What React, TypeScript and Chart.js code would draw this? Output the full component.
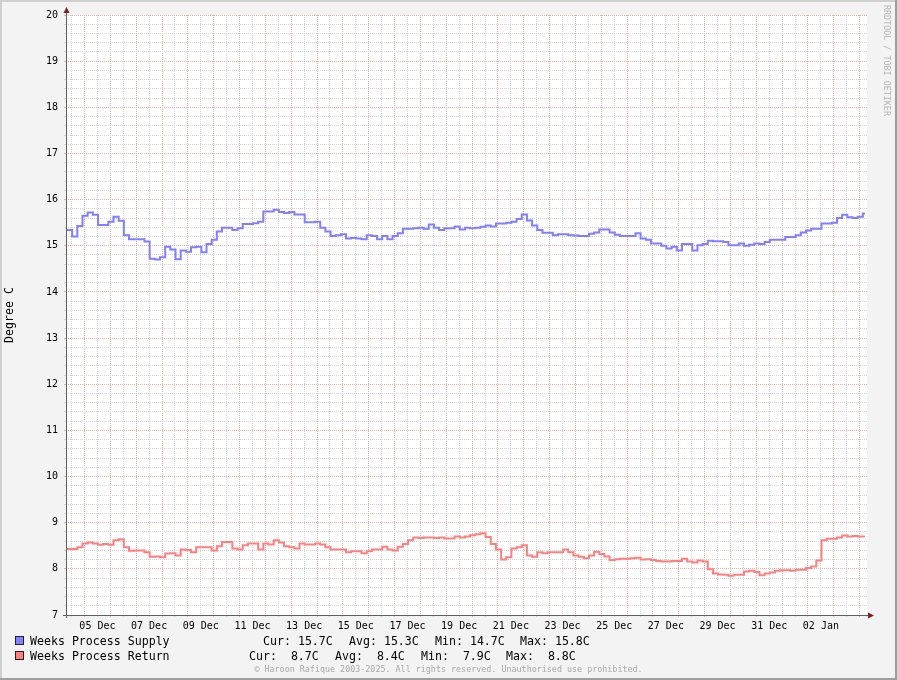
import React, { useEffect, useRef } from 'react';
import { Chart, registerables } from 'chart.js';

Chart.register(...registerables);

// ---------------- data ----------------
const SERIES_NAMES = ['Weeks Process Supply', 'Weeks Process Return'];
const SERIES_COLORS = ['#7F7FFF', '#FF7F7F'];

// consolidated 4.8-hour averages (degrees C), oldest first
const SUPPLY_VALUES = [
  15.34, 15.20, 15.43, 15.65, 15.72, 15.67, 15.45, 15.45, 15.52, 15.63,
  15.54, 15.23, 15.14, 15.14, 15.14, 15.09, 14.72, 14.70, 14.75, 14.98,
  14.92, 14.71, 14.90, 14.87, 14.97, 14.98, 14.86, 15.04, 15.13, 15.31,
  15.39, 15.39, 15.34, 15.38, 15.47, 15.47, 15.49, 15.52, 15.74, 15.74,
  15.78, 15.73, 15.71, 15.73, 15.68, 15.68, 15.51, 15.51, 15.52, 15.39,
  15.31, 15.21, 15.23, 15.25, 15.16, 15.17, 15.16, 15.14, 15.23, 15.21,
  15.14, 15.21, 15.14, 15.21, 15.27, 15.37, 15.37, 15.38, 15.39, 15.37,
  15.46, 15.39, 15.34, 15.38, 15.38, 15.42, 15.35, 15.39, 15.38, 15.39,
  15.41, 15.44, 15.42, 15.48, 15.48, 15.50, 15.52, 15.58, 15.68, 15.55,
  15.44, 15.34, 15.28, 15.28, 15.23, 15.25, 15.25, 15.23, 15.22, 15.21,
  15.21, 15.26, 15.29, 15.35, 15.35, 15.29, 15.24, 15.21, 15.21, 15.21,
  15.27, 15.16, 15.13, 15.05, 15.05, 15.00, 14.94, 14.98, 14.90, 15.04,
  15.04, 14.90, 15.01, 15.04, 15.11, 15.10, 15.10, 15.08, 15.01, 15.01,
  15.05, 15.00, 15.02, 15.05, 15.04, 15.08, 15.13, 15.13, 15.13, 15.19,
  15.19, 15.23, 15.29, 15.33, 15.37, 15.37, 15.48, 15.48, 15.50, 15.60,
  15.67, 15.62, 15.60, 15.63, 15.70,
];

const RETURN_VALUES = [
  8.43, 8.43, 8.47, 8.55, 8.57, 8.55, 8.52, 8.54, 8.52, 8.62,
  8.64, 8.47, 8.39, 8.40, 8.40, 8.36, 8.26, 8.27, 8.25, 8.33,
  8.34, 8.29, 8.42, 8.41, 8.36, 8.47, 8.47, 8.47, 8.40, 8.49,
  8.58, 8.58, 8.44, 8.42, 8.51, 8.55, 8.55, 8.42, 8.55, 8.53,
  8.62, 8.57, 8.49, 8.47, 8.44, 8.55, 8.53, 8.53, 8.55, 8.53,
  8.47, 8.42, 8.42, 8.42, 8.36, 8.38, 8.38, 8.34, 8.38, 8.42,
  8.42, 8.48, 8.42, 8.40, 8.48, 8.54, 8.62, 8.68, 8.67, 8.68,
  8.68, 8.67, 8.68, 8.66, 8.66, 8.70, 8.68, 8.70, 8.73, 8.75,
  8.77, 8.69, 8.54, 8.42, 8.20, 8.25, 8.44, 8.47, 8.51, 8.29,
  8.26, 8.36, 8.34, 8.36, 8.36, 8.36, 8.42, 8.36, 8.29, 8.26,
  8.23, 8.29, 8.37, 8.32, 8.27, 8.19, 8.21, 8.22, 8.22, 8.23,
  8.24, 8.20, 8.21, 8.19, 8.17, 8.16, 8.16, 8.17, 8.17, 8.22,
  8.16, 8.14, 8.18, 8.16, 7.99, 7.90, 7.88, 7.87, 7.85, 7.87,
  7.87, 7.94, 7.96, 7.93, 7.86, 7.90, 7.92, 7.96, 7.97, 7.97,
  7.96, 7.98, 7.98, 8.02, 8.05, 8.18, 8.62, 8.65, 8.65, 8.68,
  8.72, 8.70, 8.71, 8.70, 8.70,
];

const SUPPLY_STATS = ['Cur: 15.7C', 'Avg: 15.3C', 'Min: 14.7C', 'Max: 15.8C'];
const RETURN_STATS = ['Cur:  8.7C', 'Avg:  8.4C', 'Min:  7.9C', 'Max:  8.8C'];

// x labels, one every second day (centred on noon), starting 05 Dec
const X_TICK_LABELS = [
  '05 Dec', '07 Dec', '09 Dec', '11 Dec', '13 Dec', '15 Dec', '17 Dec', '19 Dec',
  '21 Dec', '23 Dec', '25 Dec', '27 Dec', '29 Dec', '31 Dec', '02 Jan',
];

const Y_MIN = 7;
const Y_MAX = 20;
const Y_TITLE = 'Degree C';
const WATERMARK = 'RRDTOOL / TOBI OETIKER';
const COPYRIGHT = '\u00A9 Haroon Rafique 2003-2025. All rights reserved. Unauthorised use prohibited.';

// time in days relative to 05 Dec 00:00
const X_MIN = -0.716;
const X_SPAN_DAYS = 31;
const FIRST_STEP_END = -0.4775;
const STEP_DAYS = 0.2;
const DATA_END = 30.2;

// ---------------- styling ----------------
const MONO = "'DejaVu Sans Mono', 'Liberation Mono', monospace";
const MAJOR_GRID = '#EDAEAE';
const MINOR_GRID = '#D7D7D7';
const AXIS_COLOR = '#5E5E5E';
const ARROW_COLOR = '#7F1F1F';

function toPoints(values: number[]) {
  const pts = values.map((v, i) => ({
    x: i === 0 ? X_MIN : FIRST_STEP_END + (i - 1) * STEP_DAYS,
    y: v,
  }));
  pts.push({ x: DATA_END, y: values[values.length - 1] });
  return pts;
}

const isWhole = (v: number) => Math.abs(v - Math.round(v)) < 1e-6;

const decorPlugin = {
  id: 'rrdDecor',
  beforeDraw(chart: any) {
    const { ctx, chartArea: a, width, height } = chart;
    ctx.save();
    ctx.fillStyle = '#F3F3F3';
    ctx.fillRect(0, 0, width, height);
    ctx.fillStyle = '#FFFFFF';
    ctx.fillRect(a.left, a.top, a.right - a.left, a.bottom - a.top);
    ctx.fillStyle = '#CFCFCF';
    ctx.fillRect(0, 0, width, 2);
    ctx.fillRect(0, 0, 2, height);
    ctx.fillStyle = '#9E9E9E';
    ctx.fillRect(0, height - 2, width, 2);
    ctx.fillRect(width - 2, 0, 2, height);
    ctx.restore();
  },
  afterDraw(chart: any) {
    const { ctx, chartArea: a } = chart;
    const x0 = Math.round(a.left) + 0.5;
    const y0 = Math.round(a.bottom) + 0.5;
    ctx.save();
    ctx.strokeStyle = AXIS_COLOR;
    ctx.lineWidth = 1;
    ctx.beginPath();
    ctx.moveTo(x0, a.bottom + 3);
    ctx.lineTo(x0, a.top - 3);
    ctx.moveTo(a.left - 3, y0);
    ctx.lineTo(a.right + 2, y0);
    ctx.stroke();
    ctx.fillStyle = ARROW_COLOR;
    ctx.beginPath();
    ctx.moveTo(x0 - 3, a.top - 2);
    ctx.lineTo(x0 + 3, a.top - 2);
    ctx.lineTo(x0, a.top - 8);
    ctx.closePath();
    ctx.fill();
    ctx.beginPath();
    ctx.moveTo(a.right + 1, y0 - 3);
    ctx.lineTo(a.right + 1, y0 + 3);
    ctx.lineTo(a.right + 7, y0);
    ctx.closePath();
    ctx.fill();
    ctx.restore();
  },
};

export default function App() {
  const ref = useRef<HTMLCanvasElement>(null);

  useEffect(() => {
    if (!ref.current) return;
    const gridColor = (c: any) => (c.tick && isWhole(c.tick.value) ? MAJOR_GRID : MINOR_GRID);
    const chart = new Chart(ref.current, {
      type: 'line',
      data: {
        datasets: [
          {
            label: SERIES_NAMES[0],
            data: toPoints(SUPPLY_VALUES),
            borderColor: SERIES_COLORS[0],
            backgroundColor: SERIES_COLORS[0],
            borderWidth: 2,
            pointRadius: 0,
            stepped: 'before',
            fill: false,
            borderJoinStyle: 'miter',
          },
          {
            label: SERIES_NAMES[1],
            data: toPoints(RETURN_VALUES),
            borderColor: SERIES_COLORS[1],
            backgroundColor: SERIES_COLORS[1],
            borderWidth: 2,
            pointRadius: 0,
            stepped: 'before',
            fill: false,
            borderJoinStyle: 'miter',
          },
        ],
      },
      options: {
        animation: false,
        responsive: false,
        events: [],
        layout: { padding: { left: 0, top: 15, right: 30, bottom: 45 } },
        plugins: {
          legend: { display: false },
          tooltip: { enabled: false },
          title: { display: false },
        },
        scales: {
          x: {
            type: 'linear',
            min: X_MIN,
            max: X_MIN + X_SPAN_DAYS,
            afterBuildTicks: (scale: any) => {
              const ticks = [];
              for (let v = Math.ceil(X_MIN * 2) / 2; v <= X_MIN + X_SPAN_DAYS + 1e-9; v += 0.5) {
                ticks.push({ value: v });
              }
              scale.ticks = ticks;
            },
            afterFit: (scale: any) => {
              scale.height = 20;
            },
            grid: {
              color: gridColor,
              tickColor: gridColor,
              lineWidth: 1,
              tickLength: 2,
              drawTicks: true,
            },
            border: { display: false, dash: [1, 1] },
            ticks: {
              autoSkip: false,
              maxRotation: 0,
              padding: 3,
              color: '#000000',
              font: { family: MONO, size: 10 },
              callback: (value: any) => {
                const idx = (Number(value) - 0.5) / 2;
                if (isWhole(idx) && idx >= 0 && idx < X_TICK_LABELS.length) {
                  return X_TICK_LABELS[Math.round(idx)];
                }
                return '';
              },
            },
          },
          y: {
            type: 'linear',
            min: Y_MIN,
            max: Y_MAX,
            afterBuildTicks: (scale: any) => {
              const ticks = [];
              for (let i = 0; i <= (Y_MAX - Y_MIN) * 5; i++) {
                ticks.push({ value: Math.round((Y_MIN + i * 0.2) * 10) / 10 });
              }
              scale.ticks = ticks;
            },
            afterFit: (scale: any) => {
              scale.width = 66;
            },
            grid: {
              color: gridColor,
              tickColor: gridColor,
              lineWidth: 1,
              tickLength: 2,
              drawTicks: true,
            },
            border: { display: false, dash: [1, 1] },
            title: {
              display: true,
              text: Y_TITLE,
              color: '#000000',
              font: { family: MONO, size: 11.6 },
              padding: { top: 3.5, bottom: 0 },
            },
            ticks: {
              autoSkip: false,
              padding: 6,
              color: '#000000',
              font: { family: MONO, size: 10 },
              callback: (value: any) => (isWhole(Number(value)) ? String(Math.round(Number(value))) : ''),
            },
          },
        },
      },
      plugins: [decorPlugin],
    } as any);
    return () => chart.destroy();
  }, []);

  const legendFont: React.CSSProperties = {
    position: 'absolute',
    fontFamily: MONO,
    fontSize: 11.6,
    lineHeight: '14px',
    color: '#000',
    whiteSpace: 'pre',
  };
  const statX1 = [263, 349, 435, 520];
  const statX2 = [249, 335, 421, 506];

  return (
    <div style={{ position: 'absolute', left: 0, top: 0, width: 897, height: 680, overflow: 'hidden' }}>
      <canvas ref={ref} width={897} height={680} style={{ display: 'block', width: 897, height: 680 }} />
      {[0, 1].map((i) => (
        <div
          key={'sq' + i}
          style={{
            position: 'absolute',
            left: 15,
            top: 636 + i * 15,
            width: 9,
            height: 9,
            boxSizing: 'border-box',
            border: '1px solid #222',
            background: SERIES_COLORS[i],
          }}
        />
      ))}
      {[0, 1].map((i) => (
        <div key={'nm' + i} style={{ ...legendFont, left: 30, top: 634 + i * 15 }}>
          {SERIES_NAMES[i]}
        </div>
      ))}
      {SUPPLY_STATS.map((s, i) => (
        <div key={'s1' + i} style={{ ...legendFont, left: statX1[i], top: 634 }}>
          {s}
        </div>
      ))}
      {RETURN_STATS.map((s, i) => (
        <div key={'s2' + i} style={{ ...legendFont, left: statX2[i], top: 649 }}>
          {s}
        </div>
      ))}
      <div
        style={{
          position: 'absolute',
          left: 0,
          top: 664,
          width: 897,
          textAlign: 'center',
          fontFamily: MONO,
          fontSize: 8.4,
          lineHeight: '10px',
          color: '#A8A8A8',
          whiteSpace: 'pre',
        }}
      >
        {COPYRIGHT}
      </div>
      <div
        style={{
          position: 'absolute',
          left: 892,
          top: 5,
          transform: 'rotate(90deg)',
          transformOrigin: '0 0',
          fontFamily: MONO,
          fontSize: 8.4,
          lineHeight: '10px',
          color: '#B4B4B4',
          whiteSpace: 'pre',
        }}
      >
        {WATERMARK}
      </div>
    </div>
  );
}
